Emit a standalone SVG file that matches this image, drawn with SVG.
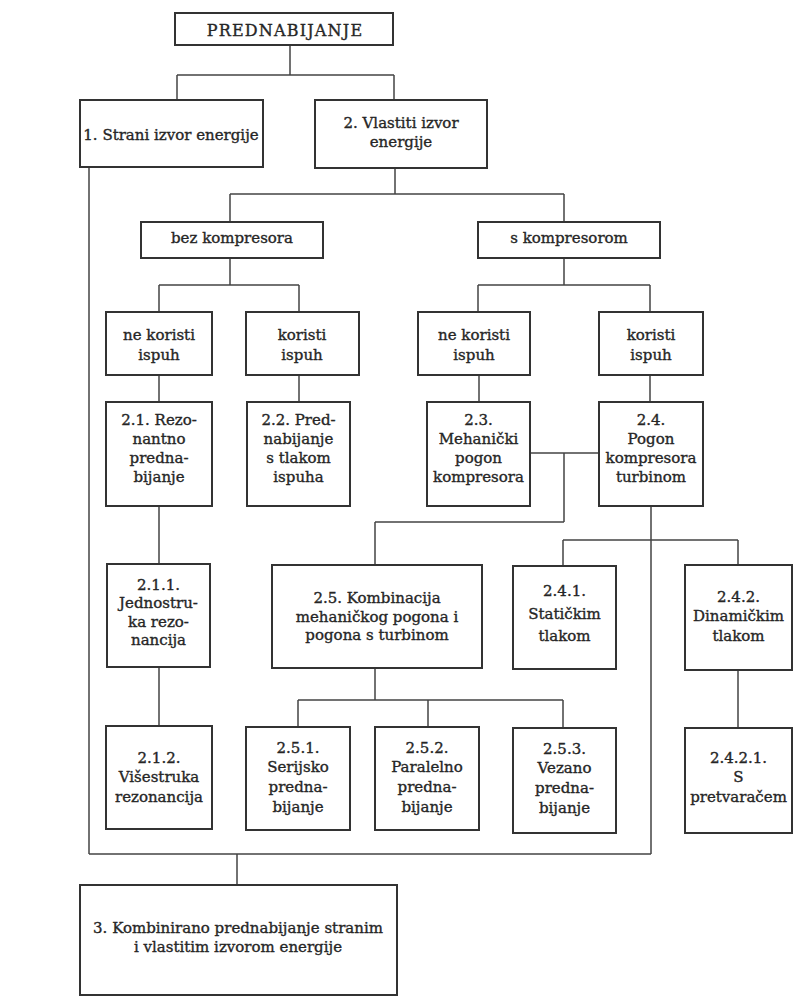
<svg xmlns="http://www.w3.org/2000/svg" width="797" height="999" viewBox="0 0 797 999">
<style>
.bg{fill:#ffffff}
.box{fill:#ffffff;stroke:#333333;stroke-width:2}
.t{font-family:'DejaVu Serif','Liberation Serif',serif;font-size:15px;fill:#262626;stroke:#262626;stroke-width:0.35;text-anchor:middle}
.c{stroke:#444444;stroke-width:1.5;fill:none}
</style>
<rect class="bg" x="0" y="0" width="797" height="999"/>
<g id="connectors">
<path class="c" d="M290,45V75 M177,75H394 M177,75V100 M394,75V100"/>
<path class="c" d="M89,167V854 M89,854H651 M237,854V885"/>
<path class="c" d="M395,168V194 M230,194H564 M230,194V222 M564,194V222"/>
<path class="c" d="M230,258V285 M159,285H299 M159,285V312 M299,285V312"/>
<path class="c" d="M564,258V285 M478,285H650 M478,285V312 M650,285V312"/>
<path class="c" d="M159,375V402 M299,375V402 M479,375V402 M650,375V402"/>
<path class="c" d="M159,506V564 M159,667V726"/>
<path class="c" d="M530,453H599 M564,453V522 M564,522H375 M375,522V565"/>
<path class="c" d="M375,668V700 M298,700H563 M298,700V727 M428,700V727 M563,700V728"/>
<path class="c" d="M651,506V854 M563,540H738 M563,540V566 M738,540V565 M738,670V728"/>
</g>
<g id="n0"><rect class="box" x="175" y="13" width="218" height="32"/><text class="t" x="285" y="36" style="font-size:16px;letter-spacing:1.2px">PREDNABIJANJE</text></g>
<g id="n1"><rect class="box" x="80" y="100" width="183" height="67"/><text class="t" x="171" y="140">1. Strani izvor energije</text></g>
<g id="n2"><rect class="box" x="315" y="100" width="172" height="68"/><text class="t" x="401" y="128">2. Vlastiti izvor</text><text class="t" x="401" y="147">energije</text></g>
<g id="n3"><rect class="box" x="141" y="222" width="182" height="36"/><text class="t" x="232" y="243">bez kompresora</text></g>
<g id="n4"><rect class="box" x="478" y="222" width="182" height="36"/><text class="t" x="569" y="243">s kompresorom</text></g>
<g id="n5"><rect class="box" x="106" y="312" width="106" height="63"/><text class="t" x="159" y="340">ne koristi</text><text class="t" x="159" y="360">ispuh</text></g>
<g id="n6"><rect class="box" x="246" y="312" width="113" height="63"/><text class="t" x="302" y="340">koristi</text><text class="t" x="302" y="360">ispuh</text></g>
<g id="n7"><rect class="box" x="418" y="312" width="112" height="63"/><text class="t" x="474" y="340">ne koristi</text><text class="t" x="474" y="360">ispuh</text></g>
<g id="n8"><rect class="box" x="599" y="312" width="104" height="63"/><text class="t" x="651" y="340">koristi</text><text class="t" x="651" y="360">ispuh</text></g>
<g id="n9"><rect class="box" x="106" y="402" width="106" height="104"/><text class="t" x="159" y="425">2.1. Rezo-</text><text class="t" x="159" y="444">nantno</text><text class="t" x="159" y="463">predna-</text><text class="t" x="159" y="482">bijanje</text></g>
<g id="n10"><rect class="box" x="247" y="402" width="103" height="104"/><text class="t" x="298.5" y="425">2.2. Pred-</text><text class="t" x="298.5" y="444">nabijanje</text><text class="t" x="298.5" y="463">s tlakom</text><text class="t" x="298.5" y="482">ispuha</text></g>
<g id="n11"><rect class="box" x="427" y="402" width="103" height="104"/><text class="t" x="478.5" y="425">2.3.</text><text class="t" x="478.5" y="444">Mehanički</text><text class="t" x="478.5" y="463">pogon</text><text class="t" x="478.5" y="482">kompresora</text></g>
<g id="n12"><rect class="box" x="599" y="402" width="104" height="104"/><text class="t" x="651" y="425">2.4.</text><text class="t" x="651" y="444">Pogon</text><text class="t" x="651" y="463">kompresora</text><text class="t" x="651" y="482">turbinom</text></g>
<g id="n13"><rect class="box" x="107" y="564" width="103" height="103"/><text class="t" x="158.5" y="590">2.1.1.</text><text class="t" x="158.5" y="608">Jednostru-</text><text class="t" x="158.5" y="627">ka rezo-</text><text class="t" x="158.5" y="645">nancija</text></g>
<g id="n14"><rect class="box" x="272" y="565" width="210" height="103"/><text class="t" x="377" y="603">2.5. Kombinacija</text><text class="t" x="377" y="622">mehaničkog pogona i</text><text class="t" x="377" y="640">pogona s turbinom</text></g>
<g id="n15"><rect class="box" x="513" y="566" width="103" height="103"/><text class="t" x="564.5" y="596">2.4.1.</text><text class="t" x="564.5" y="619">Statičkim</text><text class="t" x="564.5" y="641">tlakom</text></g>
<g id="n16"><rect class="box" x="685" y="565" width="107" height="105"/><text class="t" x="738.5" y="602">2.4.2.</text><text class="t" x="738.5" y="621">Dinamičkim</text><text class="t" x="738.5" y="641">tlakom</text></g>
<g id="n17"><rect class="box" x="106" y="726" width="106" height="103"/><text class="t" x="159" y="763">2.1.2.</text><text class="t" x="159" y="782">Višestruka</text><text class="t" x="159" y="802">rezonancija</text></g>
<g id="n18"><rect class="box" x="246" y="727" width="104" height="103"/><text class="t" x="298" y="753">2.5.1.</text><text class="t" x="298" y="772">Serijsko</text><text class="t" x="298" y="792">predna-</text><text class="t" x="298" y="812">bijanje</text></g>
<g id="n19"><rect class="box" x="375" y="727" width="104" height="103"/><text class="t" x="427" y="753">2.5.2.</text><text class="t" x="427" y="772">Paralelno</text><text class="t" x="427" y="792">predna-</text><text class="t" x="427" y="812">bijanje</text></g>
<g id="n20"><rect class="box" x="513" y="728" width="103" height="105"/><text class="t" x="564.5" y="754">2.5.3.</text><text class="t" x="564.5" y="773">Vezano</text><text class="t" x="564.5" y="793">predna-</text><text class="t" x="564.5" y="813">bijanje</text></g>
<g id="n21"><rect class="box" x="685" y="728" width="107" height="105"/><text class="t" x="738.5" y="763">2.4.2.1.</text><text class="t" x="738.5" y="782">S</text><text class="t" x="738.5" y="802">pretvaračem</text></g>
<g id="n22"><rect class="box" x="80" y="885" width="317" height="110"/><text class="t" x="238" y="933">3. Kombinirano prednabijanje stranim</text><text class="t" x="238" y="952">i vlastitim izvorom energije</text></g>
</svg>
